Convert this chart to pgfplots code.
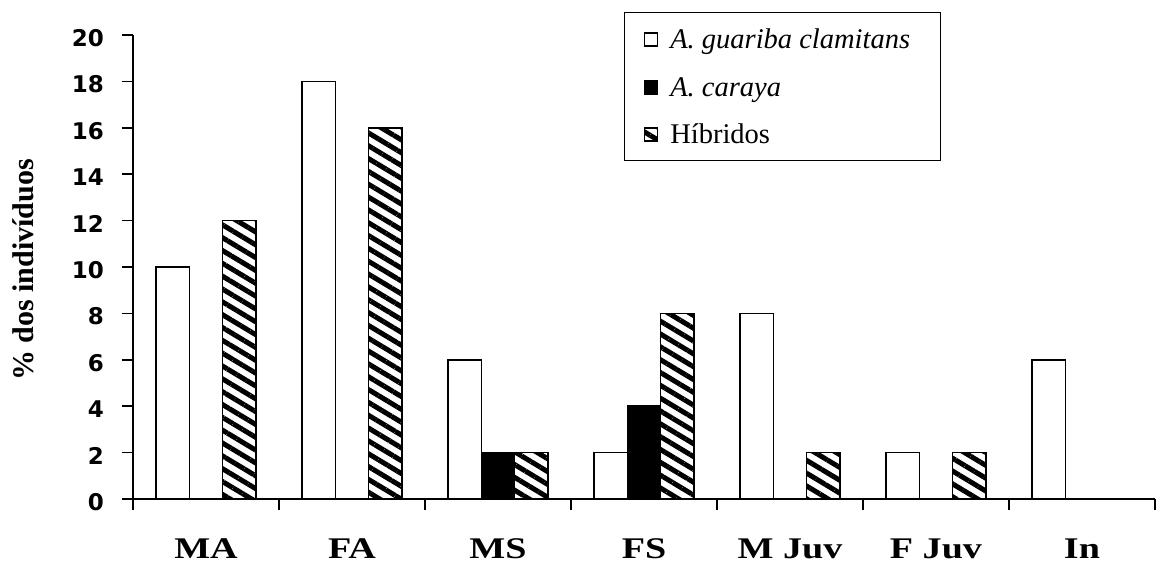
\documentclass[border=0pt]{standalone}
\usepackage{pgfplots}
\pgfplotsset{compat=1.18}
\usepackage{graphicx}
\usepackage{fontspec}
\setmainfont{Liberation Serif}
\newfontfamily\dejavu{DejaVu Sans}
\usetikzlibrary{patterns.meta}

% square legend symbol, as in the original
\pgfplotsset{sq/.style={legend image code/.code={%
  \path (0pt,0pt);
  \draw[##1] (6pt,-7pt) rectangle (19pt,6pt);}}}

\begin{document}
\begin{tikzpicture}
\begin{axis}[
  at={(0pt,0pt)}, anchor=south west,
  scale only axis, width=1022pt, height=464pt,
  xmin=-0.5, xmax=6.5, ymin=0, ymax=20,
  axis x line=bottom, axis y line=left,
  axis line style={-, line width=1.5pt, black},
  tick style={black, line width=1.5pt},
  tick align=outside, major tick length=11pt,
  ybar, bar width=0.228,
  ytick={0,2,...,20},
  /pgf/number format/assume math mode=true,
  yticklabel style={font=\dejavu\bfseries\fontsize{23}{23}\selectfont,
    inner sep=0pt, anchor=east, xshift=-18pt, yshift=-3pt},
  xtick={-0.5,0.5,...,6.5}, xticklabels={},
  extra x ticks={0,1,2,3,4,5,6},
  extra x tick labels={\scalebox{1.27}[1]{MA},\scalebox{1.27}[1]{FA},
    \scalebox{1.27}[1]{MS},\scalebox{1.27}[1]{FS},\scalebox{1.27}[1]{M Juv},
    \scalebox{1.27}[1]{F Juv},\scalebox{1.27}[1]{In}},
  extra x tick style={grid=none, major tick length=0pt},
  xticklabel style={font=\bfseries\fontsize{30}{30}\selectfont,
    anchor=base, inner sep=0pt, yshift=-59pt},
  ylabel={\% dos indivíduos},
  every axis y label/.style={at={(axis description cs:-0.0969,0.4935)},
    rotate=90, anchor=base, font=\bfseries\fontsize{30}{30}\selectfont},
  legend style={at={(axis description cs:0.4804,1.0496)}, anchor=north west,
    draw=black, line width=1.5pt, inner xsep=13pt, inner ysep=14pt,
    row sep=22.5pt, column sep=12pt, font=\fontsize{28.5}{28.5}\selectfont,
    nodes={inner sep=0pt, text height=22pt, text depth=3pt}},
  legend cell align=left,
]
\addplot[sq, fill=white, draw=black, line width=1.6pt, bar shift=-0.228]
  coordinates {(0,10) (1,18) (2,6) (3,2) (4,8) (5,2) (6,6)};
\addplot[sq, fill=black, draw=black, line width=1.6pt, bar shift=0]
  coordinates {(0,0) (1,0) (2,2) (3,4) (4,0) (5,0) (6,0)};
\addplot[sq, pattern={Lines[angle=-31,distance=11pt,line width=5pt]},
  draw=black, line width=1.6pt, bar shift=0.228]
  coordinates {(0,12) (1,16) (2,2) (3,8) (4,2) (5,2) (6,0)};
\addlegendentry{\makebox[257pt][l]{\textit{A. guariba clamitans}}}
\addlegendentry{\textit{A. caraya}}
\addlegendentry{Híbridos}
\end{axis}
\pgfresetboundingbox
\path (-133pt,-67pt) rectangle (1024pt,499pt);
\end{tikzpicture}
\end{document}
